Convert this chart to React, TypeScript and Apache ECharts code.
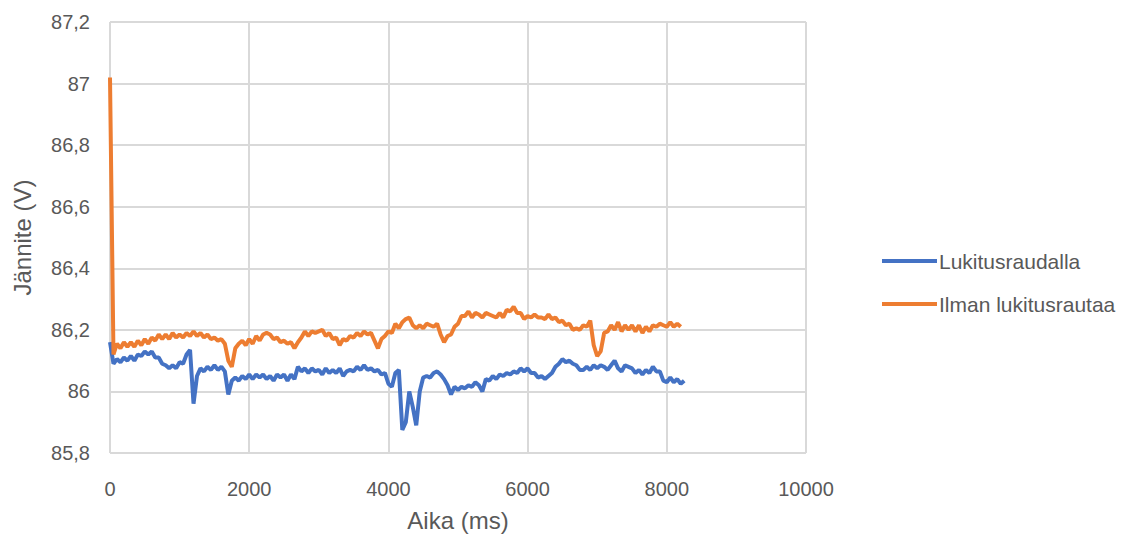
import React, { useEffect, useRef } from "react";
import * as echarts from "echarts";

const SAMPLE_MS = 50;

const seriesNames = ["Lukitusraudalla", "Ilman lukitusrautaa"];

// Lukitusraudalla, one reading every 50 ms from 0 ms
const lukitusraudalla = [
  86.16, 86.09, 86.105, 86.095, 86.11, 86.10, 86.115, 86.10, 86.12, 86.115,
  86.13, 86.12, 86.13, 86.11, 86.11, 86.09, 86.085, 86.075, 86.085, 86.075,
  86.095, 86.09, 86.12, 86.135, 85.96, 86.05, 86.075, 86.065, 86.08, 86.07,
  86.085, 86.07, 86.08, 86.065, 85.99, 86.035, 86.045, 86.035, 86.05, 86.04,
  86.055, 86.04, 86.055, 86.045, 86.055, 86.04, 86.05, 86.035, 86.055, 86.045,
  86.055, 86.035, 86.055, 86.04, 86.08, 86.065, 86.075, 86.06, 86.075, 86.065,
  86.07, 86.055, 86.075, 86.06, 86.07, 86.06, 86.075, 86.05, 86.065, 86.07,
  86.065, 86.08, 86.07, 86.085, 86.07, 86.075, 86.065, 86.07, 86.055, 86.06,
  86.025, 86.015, 86.06, 86.07, 85.875, 85.90, 86.00, 85.95, 85.89, 86.00,
  86.045, 86.05, 86.045, 86.06, 86.065, 86.055, 86.04, 86.02, 85.99, 86.015,
  86.005, 86.015, 86.01, 86.02, 86.015, 86.03, 86.02, 86.00, 86.04, 86.035,
  86.05, 86.04, 86.055, 86.05, 86.06, 86.055, 86.065, 86.06, 86.075, 86.065,
  86.075, 86.06, 86.06, 86.045, 86.05, 86.04, 86.05, 86.06, 86.08, 86.09,
  86.105, 86.095, 86.10, 86.09, 86.085, 86.07, 86.07, 86.08, 86.07, 86.085,
  86.075, 86.085, 86.08, 86.07, 86.085, 86.10, 86.075, 86.065, 86.085, 86.08,
  86.075, 86.06, 86.07, 86.055, 86.07, 86.06, 86.08, 86.065, 86.065, 86.035,
  86.03, 86.045, 86.03, 86.04, 86.025, 86.035,
];

// Ilman lukitusrautaa, one reading every 50 ms from 0 ms
const ilmanLukitusrautaa = [
  87.02, 86.12, 86.155, 86.14, 86.16, 86.145, 86.16, 86.145, 86.165, 86.15,
  86.17, 86.155, 86.175, 86.165, 86.185, 86.17, 86.185, 86.17, 86.19, 86.175,
  86.185, 86.175, 86.19, 86.18, 86.195, 86.18, 86.19, 86.175, 86.185, 86.17,
  86.175, 86.165, 86.17, 86.155, 86.10, 86.08, 86.14, 86.155, 86.165, 86.15,
  86.17, 86.155, 86.18, 86.165, 86.185, 86.19, 86.185, 86.17, 86.175, 86.16,
  86.165, 86.155, 86.16, 86.14, 86.16, 86.175, 86.195, 86.18, 86.195, 86.19,
  86.195, 86.20, 86.18, 86.19, 86.17, 86.175, 86.15, 86.17, 86.165, 86.18,
  86.175, 86.19, 86.18, 86.195, 86.185, 86.19, 86.165, 86.14, 86.17, 86.18,
  86.195, 86.19, 86.22, 86.205, 86.225, 86.235, 86.24, 86.215, 86.205, 86.215,
  86.205, 86.22, 86.215, 86.21, 86.22, 86.185, 86.16, 86.18, 86.185, 86.21,
  86.22, 86.245, 86.245, 86.26, 86.24, 86.255, 86.25, 86.24, 86.255, 86.25,
  86.245, 86.24, 86.255, 86.24, 86.265, 86.26, 86.275, 86.255, 86.255, 86.235,
  86.245, 86.24, 86.25, 86.24, 86.24, 86.235, 86.25, 86.235, 86.24, 86.225,
  86.23, 86.215, 86.22, 86.20, 86.205, 86.20, 86.215, 86.21, 86.23, 86.15,
  86.115, 86.13, 86.19, 86.195, 86.215, 86.20, 86.225, 86.195, 86.215, 86.20,
  86.215, 86.195, 86.215, 86.19, 86.21, 86.195, 86.215, 86.21, 86.22, 86.215,
  86.21, 86.225, 86.21, 86.22, 86.21,
];

const colors = ["#4472C4", "#ED7D31"];

const xAxisTitle = "Aika (ms)";
const yAxisTitle = "Jännite (V)";

const toPairs = (vals: number[]) => vals.map((v, i) => [i * SAMPLE_MS, v]);

export default function App() {
  const ref = useRef<HTMLDivElement>(null);
  useEffect(() => {
    document.body.style.margin = "0";
    if (!ref.current) return;
    const chart = echarts.init(ref.current, null, { renderer: "svg" });
    const font = "'Liberation Sans', Arial, sans-serif";
    chart.setOption({
      animation: false,
      textStyle: { fontFamily: font, color: "#595959" },
      grid: { left: 110, right: 323, top: 22, bottom: 88 },
      legend: {
        orient: "vertical",
        left: 877,
        top: 243,
        itemWidth: 55,
        itemHeight: 4,
        itemGap: 17,
        icon: "rect",
        textStyle: { fontFamily: font, fontSize: 21, color: "#595959", padding: [0, 0, 0, -3], lineHeight: 26 },
        data: seriesNames,
      },
      xAxis: {
        type: "value",
        min: 0,
        max: 10000,
        interval: 2000,
        name: xAxisTitle,
        nameLocation: "middle",
        nameGap: 55,
        nameTextStyle: { fontFamily: font, fontSize: 24, color: "#595959" },
        axisLine: { show: false },
        axisTick: { show: false },
        axisLabel: {
          fontFamily: font,
          fontSize: 20,
          color: "#595959",
          margin: 26,
          formatter: (v: number) => String(v),
        },
        splitLine: { show: true, lineStyle: { color: "#D9D9D9", width: 2 } },
      },
      yAxis: {
        type: "value",
        min: 85.8,
        max: 87.2,
        interval: 0.2,
        name: yAxisTitle,
        nameLocation: "middle",
        nameGap: 76,
        nameTextStyle: { fontFamily: font, fontSize: 24, color: "#595959" },
        axisLine: { show: false },
        axisTick: { show: false },
        axisLabel: {
          fontFamily: font,
          fontSize: 20,
          color: "#595959",
          margin: 20,
          formatter: (v: number) => {
            const r = Math.round(v * 10) / 10;
            return Number.isInteger(r) ? String(r) : r.toFixed(1).replace(".", ",");
          },
        },
        splitLine: { show: true, lineStyle: { color: "#D9D9D9", width: 2 } },
      },
      series: [
        {
          name: seriesNames[0],
          type: "line",
          data: toPairs(lukitusraudalla),
          showSymbol: false,
          symbol: "none",
          lineStyle: { color: colors[0], width: 4 },
          itemStyle: { color: colors[0] },
        },
        {
          name: seriesNames[1],
          type: "line",
          data: toPairs(ilmanLukitusrautaa),
          showSymbol: false,
          symbol: "none",
          lineStyle: { color: colors[1], width: 4 },
          itemStyle: { color: colors[1] },
        },
      ],
    });
    return () => chart.dispose();
  }, []);
  return <div ref={ref} style={{ width: 1129, height: 541 }} />;
}
